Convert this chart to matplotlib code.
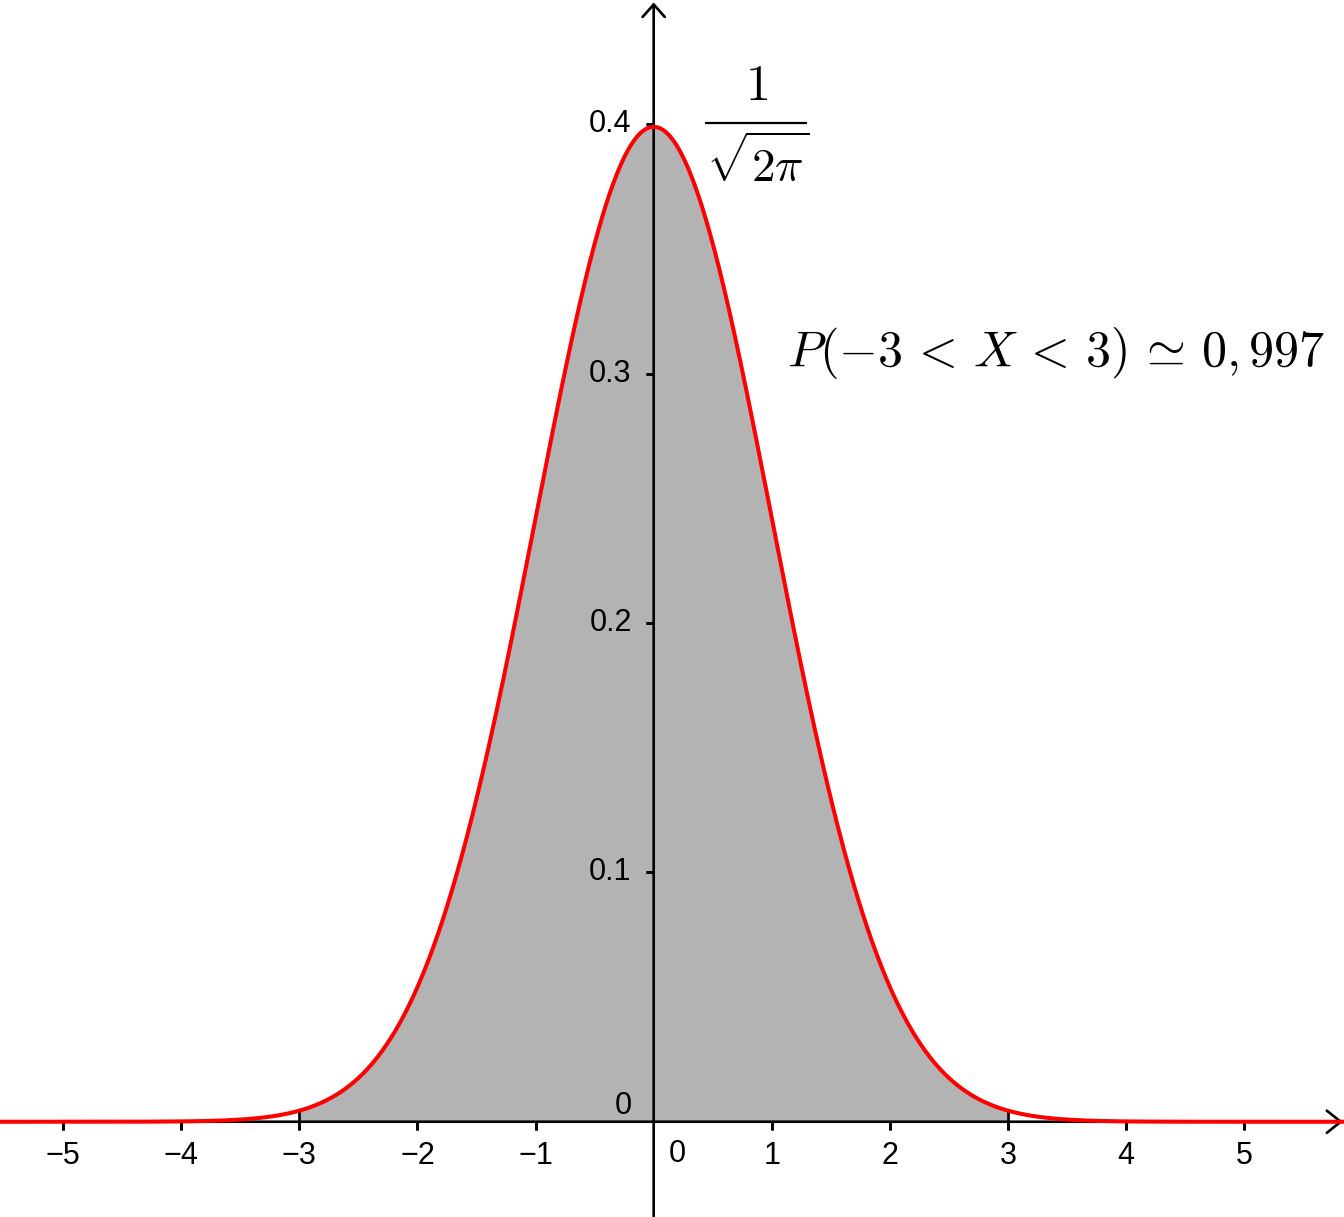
import numpy as np
import matplotlib
matplotlib.use("Agg")
import matplotlib.pyplot as plt
from matplotlib.transforms import offset_copy

# ── chart content ────────────────────────────────────────────────────────────
mu, sigma = 0.0, 1.0
shade_lo, shade_hi = -3, 3
x_ticks = [-5, -4, -3, -2, -1, 1, 2, 3, 4, 5]
x_tick_labels = ["\u22125", "\u22124", "\u22123", "\u22122", "\u22121", "1", "2", "3", "4", "5"]
y_ticks = [0.1, 0.2, 0.3, 0.4]
y_tick_labels = ["0.1", "0.2", "0.3", "0.4"]
peak_num = r"$1$"
peak_den = r"$\sqrt{2\pi}$"
prob_label = r"$P(-3\,<\,X\,<\,3)\,\simeq\,0,997$"

x_min, x_max = -5.534, 5.844
y_min, y_max = -0.0382, 0.4498

plt.rcParams["mathtext.fontset"] = "cm"
plt.rcParams["font.family"] = ["Liberation Sans", "DejaVu Sans"]

fig = plt.figure(figsize=(13.44, 12.17), dpi=100)
ax = fig.add_axes([0, 0, 1, 1])
ax.set_xlim(x_min, x_max)
ax.set_ylim(y_min, y_max)
ax.axis("off")


def pdf(t):
    return np.exp(-0.5 * ((t - mu) / sigma) ** 2) / (sigma * np.sqrt(2 * np.pi))


xs = np.linspace(x_min, x_max, 2000)
xf = np.linspace(shade_lo, shade_hi, 1000)

# shaded area
ax.fill_between(xf, 0, pdf(xf), color="#b3b3b3", lw=0, zorder=1)
for b in (shade_lo, shade_hi):
    ax.plot([b, b], [0, pdf(b)], color="black", lw=1.9, zorder=2)

# axes with open arrowheads
ax.annotate("", xy=(x_max - 0.01, 0), xytext=(x_min, 0),
            arrowprops=dict(arrowstyle="->,head_length=1.0,head_width=0.8",
                            color="black", lw=1.9, shrinkA=0, shrinkB=0),
            zorder=3)
ax.annotate("", xy=(0, y_max - 0.001), xytext=(0, y_min),
            arrowprops=dict(arrowstyle="->,head_length=0.9,head_width=0.8",
                            color="black", lw=1.9, shrinkA=0, shrinkB=0),
            zorder=3)

# tick marks
for t in x_ticks:
    ax.plot([t, t], [0, 0], marker=3, markersize=5.5, mew=1.9, color="black", zorder=3)
for t in y_ticks:
    ax.plot([0, 0], [t, t], marker=0, markersize=5.5, mew=1.9, color="black", zorder=3)

# tick labels
below = offset_copy(ax.transData, fig=fig, x=0, y=-34, units="dots")
for t, lab in zip(x_ticks, x_tick_labels):
    ax.text(t, 0, lab, transform=below, ha="center", va="center", fontsize=22)
ax.text(0, 0, "0", transform=offset_copy(ax.transData, fig=fig, x=24, y=-32, units="dots"),
        ha="center", va="center", fontsize=22)

left = offset_copy(ax.transData, fig=fig, x=-22, y=0, units="dots")
for t, lab in zip(y_ticks, y_tick_labels):
    ax.text(0, t, lab, transform=left, ha="right", va="center", fontsize=22)
ax.text(0, 0, "0", transform=offset_copy(ax.transData, fig=fig, x=-22, y=16, units="dots"),
        ha="right", va="center", fontsize=22)

# density curve
ax.plot(xs, pdf(xs), color="#ff0000", lw=2.9, zorder=4)

# peak value 1/sqrt(2*pi), written as a display-style fraction
frac_x = 0.868
ax.text(frac_x, 0.4097, peak_num, ha="center", va="baseline", fontsize=36)
ax.plot([0.434, 1.298], [0.4004, 0.4004], color="black", lw=1.6, solid_capstyle="butt")
ax.text(frac_x + 0.01, 0.3765, peak_den, ha="center", va="baseline", fontsize=34)

ax.text(3.406, 0.3082, prob_label, ha="center", va="center", fontsize=36)

fig.savefig("out.png", dpi=100)
